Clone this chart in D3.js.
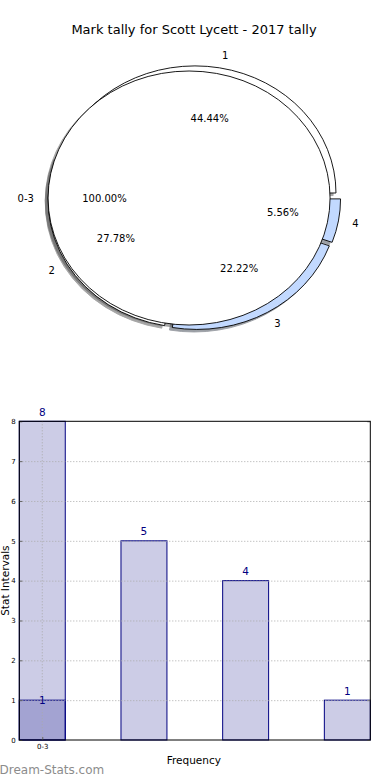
<!DOCTYPE html>
<html><head><meta charset="utf-8">
<script src="https://cdn.jsdelivr.net/npm/d3@7/dist/d3.min.js"></script>
<style>
body{margin:0;background:#fff}
svg{display:block}
text{font-family:"DejaVu Sans",sans-serif}
</style>
</head><body>
<script>
// ---- data ----
const title = "Mark tally for Scott Lycett - 2017 tally";
const categories = ["1", "2", "3", "4"];
const tally = [8, 5, 4, 1];
const innerCategories = ["0-3"];
const innerTally = [1];
const yTicks = [0, 1, 2, 3, 4, 5, 6, 7, 8];
const xTickLabels = ["0-3"];
const xAxisTitle = "Frequency";
const yAxisTitle = "Stat Intervals";
const watermark = "Dream-Stats.com";

// ---- styles ----
const outerColors = ["#ffffff", "#ffffff", "#c2d9ff", "#c2d9ff"];
const innerColors = ["#ffffff"];
const outerExplode = [0.04, 0.04, 0.04, 0.04];
const innerExplode = [0.035];

const W = 390, H = 780;
const svg = d3.select("body").append("svg").attr("width", W).attr("height", H);

svg.append("text").attr("x", 194).attr("y", 34).attr("text-anchor", "middle")
  .attr("font-size", 13).text(title);

// ---- pie ----
const PC = {x: 194, y: 198}, RX = 141, RY = 127;
const arc = d3.arc().innerRadius(0).outerRadius(1);

function pieSlices(vals, cats, cols, expl) {
  const total = d3.sum(vals);
  let cum = 0;
  return vals.map((v, i) => {
    const f = v / total;
    const t1 = cum * 2 * Math.PI, t2 = (cum + f) * 2 * Math.PI;
    cum += f;
    const mid = (t1 + t2) / 2;
    const cx = PC.x + expl[i] * Math.cos(mid) * RX;
    const cy = PC.y - expl[i] * Math.sin(mid) * RY;
    return {v, f, t1, t2, mid, cx, cy, cat: cats[i], color: cols[i]};
  });
}
const outer = pieSlices(tally, categories, outerColors, outerExplode);
const inner = pieSlices(innerTally, innerCategories, innerColors, innerExplode);

function shadowColor(c) {
  const r = d3.rgb(c);
  return d3.rgb(r.r * 0.3, r.g * 0.3, r.b * 0.3).toString();
}
function drawWedge(s, shadow) {
  const g = svg.append("g").attr("transform",
    shadow ? `translate(${s.cx - 0.02 * RX},${s.cy + 0.02 * RY}) scale(${RX},${RY})`
           : `translate(${s.cx},${s.cy}) scale(${RX},${RY})`);
  const p = g.append("path")
    .attr("d", arc({startAngle: Math.PI / 2 - s.t2, endAngle: Math.PI / 2 - s.t1}))
    .attr("vector-effect", "non-scaling-stroke")
    .attr("stroke-width", 0.9);
  if (shadow) {
    const sc = shadowColor(s.color);
    p.attr("fill", sc).attr("stroke", sc).attr("opacity", 0.5);
  } else {
    p.attr("fill", s.color).attr("stroke", "#000");
  }
}
outer.forEach(s => drawWedge(s, true));
inner.forEach(s => drawWedge(s, true));
outer.forEach(s => drawWedge(s, false));
inner.forEach(s => drawWedge(s, false));

function pieLabels(slices) {
  slices.forEach(s => {
    const c = Math.cos(s.mid), sn = Math.sin(s.mid);
    const lx = s.cx + 1.1 * c * RX, ly = s.cy - 1.1 * sn * RY;
    svg.append("text").attr("x", lx).attr("y", ly)
      .attr("text-anchor", lx > s.cx ? "start" : "end")
      .attr("dy", "0.36em").attr("font-size", 10).text(s.cat);
    const px = s.cx + 0.6 * c * RX, py = s.cy - 0.6 * sn * RY;
    svg.append("text").attr("x", px).attr("y", py)
      .attr("text-anchor", "middle").attr("dy", "0.36em")
      .attr("font-size", 10).text((s.f * 100).toFixed(2) + "%");
  });
}
pieLabels(outer);
pieLabels(inner);

// ---- bar chart ----
const L = 19.3, R = 370.3, T = 421.3, B = 740;
const x = d3.scaleBand().domain(categories).range([L, R]).paddingInner(0.548).paddingOuter(0);
const y = d3.scaleLinear().domain([0, 8]).range([B, T]);
const barFill = "rgba(0,0,128,0.2)";
const navy = "#000080";

// bars
svg.append("g").selectAll("rect").data(tally).join("rect")
  .attr("x", (d, i) => x(categories[i])).attr("width", x.bandwidth())
  .attr("y", d => y(d)).attr("height", d => B - y(d))
  .attr("fill", barFill).attr("stroke", navy).attr("stroke-width", 1);
// inner overlay bar
svg.append("g").selectAll("rect").data(innerTally).join("rect")
  .attr("x", x(categories[0])).attr("width", x.bandwidth())
  .attr("y", d => y(d)).attr("height", d => B - y(d))
  .attr("fill", barFill).attr("stroke", navy).attr("stroke-width", 1);

// grid
const grid = svg.append("g").attr("transform", `translate(${L},0)`)
  .call(d3.axisLeft(y).tickValues(yTicks.slice(1, -1)).tickSize(-(R - L)).tickFormat(""));
grid.select(".domain").remove();
grid.selectAll("line").attr("stroke", "#aaa").attr("stroke-dasharray", "1,2");
const xc = x(categories[0]) + x.bandwidth() / 2;
svg.append("line").attr("x1", xc).attr("x2", xc).attr("y1", T).attr("y2", B)
  .attr("stroke", "#aaa").attr("stroke-dasharray", "1,2");

// axes
const ya = svg.append("g").attr("transform", `translate(${L},0)`)
  .call(d3.axisLeft(y).tickValues(yTicks).tickSize(-3).tickPadding(3.6).tickFormat(d3.format("d")));
ya.select(".domain").remove();
ya.selectAll("line").attr("stroke", "#666");
ya.selectAll("text").attr("font-size", 7).attr("fill", "#000").attr("font-family", "DejaVu Sans");
const yr = svg.append("g").attr("transform", `translate(${R},0)`)
  .call(d3.axisRight(y).tickValues(yTicks).tickSize(-3).tickFormat(""));
yr.select(".domain").remove();
yr.selectAll("line").attr("stroke", "#888");
const xa = svg.append("g").attr("transform", `translate(0,${B})`)
  .call(d3.axisBottom(d3.scalePoint().domain(xTickLabels).range([xc, xc])).tickSize(-3).tickPadding(4.5));
xa.select(".domain").remove();
xa.selectAll("line").attr("stroke", "#666");
xa.selectAll("text").attr("font-size", 7).attr("fill", "#000").attr("font-family", "DejaVu Sans");

// frame
svg.append("rect").attr("x", L).attr("y", T).attr("width", R - L).attr("height", B - T)
  .attr("fill", "none").attr("stroke", "#000").attr("stroke-width", 1);

// value labels
svg.append("g").selectAll("text").data(tally).join("text")
  .attr("x", (d, i) => x(categories[i]) + x.bandwidth() / 2)
  .attr("y", d => y(d) - 5.5).attr("text-anchor", "middle")
  .attr("font-size", 10.5).attr("fill", navy).text(d => d);
svg.append("g").selectAll("text").data(innerTally).join("text")
  .attr("x", xc).attr("y", d => y(d) + 3.5).attr("text-anchor", "middle")
  .attr("font-size", 10.5).attr("fill", navy).text(d => d);

// axis titles
svg.append("text").attr("x", (L + R) / 2 - 1).attr("y", 763.5).attr("text-anchor", "middle")
  .attr("font-size", 10.5).text(xAxisTitle);
svg.append("text").attr("transform", `translate(8.6,${(T + B) / 2}) rotate(-90)`)
  .attr("text-anchor", "middle").attr("font-size", 10.5).text(yAxisTitle);

svg.append("text").attr("x", -0.5).attr("y", 774).attr("font-size", 12)
  .attr("fill", "#8c8c8c").text(watermark);
</script>
</body></html>
